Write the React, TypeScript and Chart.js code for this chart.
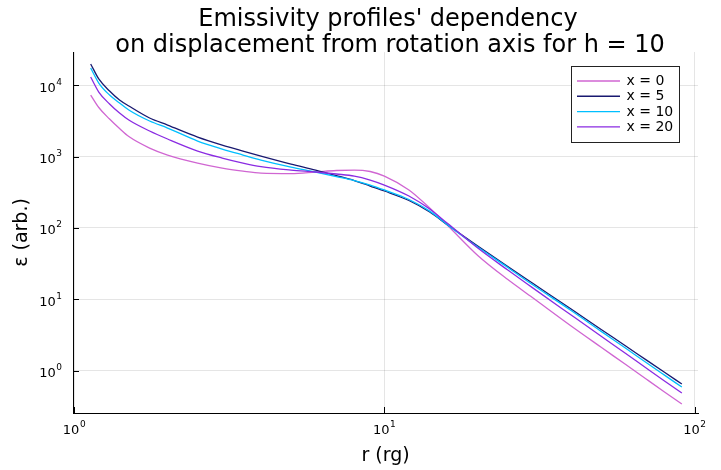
import React, { useEffect, useRef } from "react";
import { Chart, registerables } from "chart.js";

Chart.register(...registerables);

// r (rg) sample positions
const radius = [1.13, 1.2, 1.3, 1.4, 1.5, 1.75, 2, 2.5, 3, 3.5, 4, 5, 6, 7, 8, 9, 10, 12, 14, 16, 20, 25, 30, 40, 50, 60, 70, 80, 91];

// emissivity per displacement x
const epsX0 = [7265, 4857, 3352, 2468, 1906, 1315, 1050, 811, 690, 626, 587, 578, 607, 637, 647, 617, 533, 340, 190, 108, 41.1, 18.9, 10.6, 4.23, 2.13, 1.221, 0.760, 0.505, 0.342];
const epsX5 = [19800, 12200, 8270, 6185, 5100, 3461, 2762, 1876, 1449, 1194, 1016, 785, 647, 542, 461, 386, 329, 242, 167, 110, 55.8, 28.8, 16.9, 7.31, 3.79, 2.22, 1.408, 0.950, 0.651];
const epsX10 = [17360, 10700, 7265, 5615, 4480, 3142, 2507, 1649, 1274, 1050, 893, 713, 607, 525, 461, 399, 340, 250, 172, 110, 54.0, 27.9, 16.1, 6.97, 3.56, 2.06, 1.294, 0.868, 0.591];
const epsX20 = [12990, 8008, 5437, 4067, 3245, 2276, 1759, 1194, 953, 811, 724, 647, 607, 569, 533, 469, 399, 280, 184, 115, 52.3, 25.7, 14.6, 6.03, 3.04, 1.741, 1.084, 0.720, 0.487];

const seriesLabels = ["x = 0", "x = 5", "x = 10", "x = 20"];
const seriesColors = ["#d066d2", "#191970", "#00bfff", "#8a2be2"];
const seriesValues = [epsX0, epsX5, epsX10, epsX20];

const xTickExps = [0, 1, 2];
const yTickExps = [0, 1, 2, 3, 4];
const titleLines = ["Emissivity profiles' dependency", "on displacement from rotation axis for h = 10"];
const xAxisLabel = "r (rg)";
const yAxisLabel = "ε (arb.)";

const FONT = "'DejaVu Sans', sans-serif";

function drawPow(ctx: CanvasRenderingContext2D, anchorX: number, baseY: number, exp: number, align: "center" | "right") {
  ctx.font = `13px ${FONT}`;
  const w1 = ctx.measureText("10").width;
  ctx.font = `9px ${FONT}`;
  const w2 = ctx.measureText(String(exp)).width;
  const total = w1 + 0.5 + w2;
  const left = align === "center" ? anchorX - total / 2 : anchorX - total;
  ctx.textAlign = "left";
  ctx.textBaseline = "alphabetic";
  ctx.font = `13px ${FONT}`;
  ctx.fillText("10", left, baseY);
  ctx.font = `9px ${FONT}`;
  ctx.fillText(String(exp), left + w1 + 0.5, baseY - 7);
}

const decorPlugin = {
  id: "decor",
  afterDraw(chart: any) {
    const ctx: CanvasRenderingContext2D = chart.ctx;
    const a = chart.chartArea;
    const xs = chart.scales.x;
    const ys = chart.scales.y;
    ctx.save();
    // inward tick marks
    ctx.strokeStyle = "#000";
    ctx.lineWidth = 1;
    xTickExps.forEach((e) => {
      const px = Math.round(xs.getPixelForValue(Math.pow(10, e))) + 0.5;
      ctx.beginPath();
      ctx.moveTo(px, a.bottom);
      ctx.lineTo(px, a.bottom - 6);
      ctx.stroke();
    });
    yTickExps.forEach((e) => {
      const py = Math.round(ys.getPixelForValue(Math.pow(10, e))) + 0.5;
      ctx.beginPath();
      ctx.moveTo(a.left, py);
      ctx.lineTo(a.left + 6, py);
      ctx.stroke();
    });
    // tick labels
    ctx.fillStyle = "#000";
    xTickExps.forEach((e) => {
      drawPow(ctx, xs.getPixelForValue(Math.pow(10, e)), a.bottom + 21, e, "center");
    });
    yTickExps.forEach((e) => {
      drawPow(ctx, a.left - 11, ys.getPixelForValue(Math.pow(10, e)) + 6.5, e, "right");
    });
    // axis labels
    ctx.font = `19px ${FONT}`;
    ctx.textAlign = "center";
    ctx.textBaseline = "middle";
    ctx.fillText(xAxisLabel, (a.left + a.right) / 2, 456);
    ctx.save();
    ctx.translate(22, (a.top + a.bottom) / 2);
    ctx.rotate(-Math.PI / 2);
    ctx.fillText(yAxisLabel, 0, 0);
    ctx.restore();
    // title
    ctx.font = `24px ${FONT}`;
    ctx.textAlign = "center";
    ctx.textBaseline = "alphabetic";
    ctx.fillText(titleLines[0], 388, 26);
    ctx.fillText(titleLines[1], 390, 52);
    // legend
    const bx = 571.5, by = 66.5, bw = 108, bh = 76;
    ctx.fillStyle = "#fff";
    ctx.fillRect(bx, by, bw, bh);
    ctx.strokeStyle = "#222";
    ctx.lineWidth = 1;
    ctx.strokeRect(bx, by, bw, bh);
    ctx.font = `14px ${FONT}`;
    ctx.textAlign = "left";
    ctx.textBaseline = "middle";
    seriesLabels.forEach((lab, i) => {
      const ry = 81 + i * 15.3;
      ctx.strokeStyle = seriesColors[i];
      ctx.lineWidth = 1.4;
      ctx.beginPath();
      ctx.moveTo(577, ry);
      ctx.lineTo(620, ry);
      ctx.stroke();
      ctx.fillStyle = "#000";
      ctx.fillText(lab, 626.5, ry + 0.5);
    });
    ctx.restore();
  },
};

export default function App() {
  const canvasRef = useRef<HTMLCanvasElement | null>(null);

  useEffect(() => {
    const canvas = canvasRef.current;
    if (!canvas) return;
    const datasets = seriesLabels.map((label, i) => ({
      label,
      data: radius.map((r, k) => ({ x: r, y: seriesValues[i][k] })),
      borderColor: seriesColors[i],
      backgroundColor: seriesColors[i],
      borderWidth: 1.3,
      pointRadius: 0,
      fill: false,
      cubicInterpolationMode: "monotone" as const,
      order: seriesLabels.length - i,
    }));
    const chart = new Chart(canvas, {
      type: "line",
      data: { datasets },
      options: {
        responsive: false,
        animation: false,
        devicePixelRatio: 1,
        layout: { padding: { left: 73, top: 52, right: 23, bottom: 57 } },
        plugins: {
          legend: { display: false },
          title: { display: false },
          tooltip: { enabled: false },
        },
        scales: {
          x: {
            type: "logarithmic",
            min: 0.991,
            max: 102.6,
            afterBuildTicks: (s: any) => {
              s.ticks = xTickExps.map((e) => ({ value: Math.pow(10, e) }));
            },
            afterFit: (s: any) => {
              s.height = 0;
            },
            ticks: { display: false },
            grid: { color: "rgba(0,0,0,0.1)", lineWidth: 1, drawTicks: false },
            border: { display: true, color: "#000", width: 1 },
          },
          y: {
            type: "logarithmic",
            min: 0.256,
            max: 29100,
            afterBuildTicks: (s: any) => {
              s.ticks = yTickExps.map((e) => ({ value: Math.pow(10, e) }));
            },
            afterFit: (s: any) => {
              s.width = 0;
            },
            ticks: { display: false },
            grid: { color: "rgba(0,0,0,0.1)", lineWidth: 1, drawTicks: false },
            border: { display: true, color: "#000", width: 1 },
          },
        },
      },
      plugins: [decorPlugin],
    });
    return () => chart.destroy();
  }, []);

  return (
    <div style={{ position: "absolute", left: 0, top: 0, width: 721, height: 470, background: "#fff" }}>
      <canvas ref={canvasRef} width={721} height={470} style={{ display: "block" }} />
    </div>
  );
}
